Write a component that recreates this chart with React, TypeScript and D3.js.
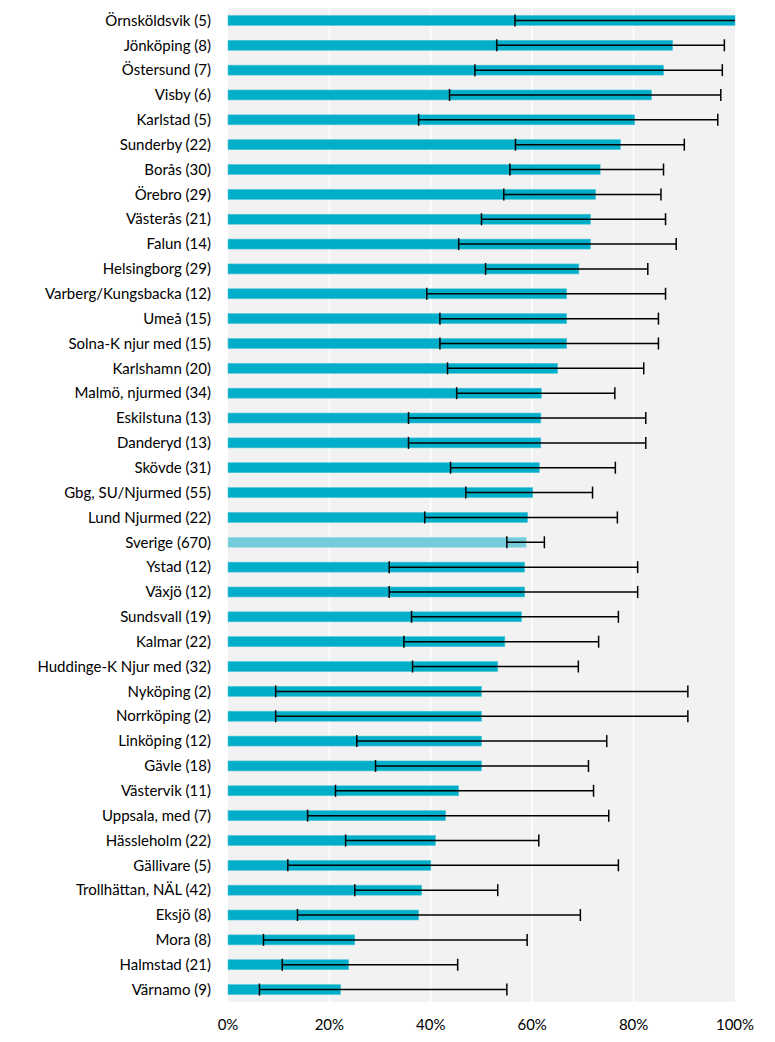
import React from "react";
import * as d3 from "d3";

const categories = [
  "Örnsköldsvik (5)", "Jönköping (8)", "Östersund (7)", "Visby (6)", "Karlstad (5)",
  "Sunderby (22)", "Borås (30)", "Örebro (29)", "Västerås (21)", "Falun (14)",
  "Helsingborg (29)", "Varberg/Kungsbacka (12)", "Umeå (15)", "Solna-K njur med (15)", "Karlshamn (20)",
  "Malmö, njurmed (34)", "Eskilstuna (13)", "Danderyd (13)", "Skövde (31)", "Gbg, SU/Njurmed (55)",
  "Lund Njurmed (22)", "Sverige (670)", "Ystad (12)", "Växjö (12)", "Sundsvall (19)",
  "Kalmar (22)", "Huddinge-K Njur med (32)", "Nyköping (2)", "Norrköping (2)", "Linköping (12)",
  "Gävle (18)", "Västervik (11)", "Uppsala, med (7)", "Hässleholm (22)", "Gällivare (5)",
  "Trollhättan, NÄL (42)", "Eksjö (8)", "Mora (8)", "Halmstad (21)", "Värnamo (9)",
];

const values = [
  100, 87.7, 85.9, 83.5, 80.2,
  77.4, 73.4, 72.5, 71.5, 71.5,
  69.2, 66.8, 66.8, 66.8, 65.0,
  61.8, 61.7, 61.7, 61.4, 60.1,
  59.1, 58.8, 58.5, 58.5, 57.9,
  54.6, 53.2, 50.0, 50.0, 50.0,
  50.0, 45.5, 42.9, 40.9, 40.0,
  38.2, 37.6, 25.0, 23.8, 22.2,
];

const lower = [
  56.6, 53.0, 48.7, 43.7, 37.6,
  56.7, 55.6, 54.4, 50.0, 45.5,
  50.8, 39.2, 41.8, 41.8, 43.3,
  45.1, 35.6, 35.6, 43.9, 46.9,
  38.8, 55.0, 31.8, 31.8, 36.2,
  34.7, 36.4, 9.4, 9.4, 25.4,
  29.1, 21.2, 15.7, 23.2, 11.8,
  25.0, 13.7, 7.0, 10.7, 6.2,
];

const upper = [
  100, 97.9, 97.5, 97.2, 96.6,
  90.0, 85.9, 85.4, 86.3, 88.4,
  82.8, 86.3, 84.9, 84.9, 82.0,
  76.3, 82.4, 82.4, 76.4, 71.9,
  76.8, 62.4, 80.8, 80.8, 77.0,
  73.1, 69.1, 90.7, 90.7, 74.7,
  71.1, 72.1, 75.1, 61.3, 77.0,
  53.2, 69.5, 59.0, 45.3, 55.0,
];

const tickValues = [0, 20, 40, 60, 80, 100];
const highlight = "Sverige (670)";

const W = 775;
const H = 1042;
const left = 228;
const right = 735;
const top = 8;
const bottom = 1002;
const FONT = "Lato, 'Open Sans', sans-serif";

export default function App() {
  const x = d3.scaleLinear().domain([0, 100]).range([left, right]);
  const y = d3.scaleBand<string>().domain(categories).range([top, bottom]).paddingInner(0.6).paddingOuter(0.3);
  const band = d3.scaleBand<string>().domain(categories).range([top, bottom]);
  const capH = 12;

  return (
    <svg width={W} height={H} style={{ position: "absolute", left: 0, top: 0, background: "#fff" }}>
      <defs>
        <clipPath id="plotclip">
          <rect x={left} y={top} width={right - left} height={bottom - top} />
        </clipPath>
      </defs>
      <rect x={left} y={top} width={right - left} height={bottom - top} fill="#f2f2f2" />
      {tickValues.slice(1, -1).map((t) => (
        <line key={t} x1={x(t)} x2={x(t)} y1={top} y2={bottom} stroke="#ffffff" strokeWidth={1.5} />
      ))}
      {categories.map((c, i) => {
        const cy = (band(c) as number) + band.bandwidth() / 2;
        const by = y(c) as number;
        const isH = c === highlight;
        return (
          <g key={c}>
            <rect
              x={x(0)}
              y={by}
              width={x(values[i]) - x(0)}
              height={y.bandwidth()}
              fill={isH ? "#72ccd9" : "#00aec9"}
              stroke={isH ? "#9fdce6" : "#4cc3d6"}
              strokeWidth={0.6}
            />
            <g clipPath="url(#plotclip)" stroke="#000" strokeWidth={1.5}>
              <line x1={x(lower[i])} x2={x(upper[i])} y1={cy} y2={cy} />
              <line x1={x(lower[i])} x2={x(lower[i])} y1={cy - capH / 2} y2={cy + capH / 2} />
              {upper[i] < 100 && (
                <line x1={x(upper[i])} x2={x(upper[i])} y1={cy - capH / 2} y2={cy + capH / 2} />
              )}
            </g>
            <text
              x={left - 17}
              y={cy}
              dy="0.35em"
              textAnchor="end"
              fontFamily={FONT}
              fontSize={15}
              fill="#000"
            >
              {c}
            </text>
          </g>
        );
      })}
      {tickValues.map((t) => (
        <text
          key={t}
          x={x(t)}
          y={1025}
          dy="0.35em"
          textAnchor="middle"
          fontFamily={FONT}
          fontSize={15}
          fill="#000"
        >
          {`${t}%`}
        </text>
      ))}
    </svg>
  );
}
